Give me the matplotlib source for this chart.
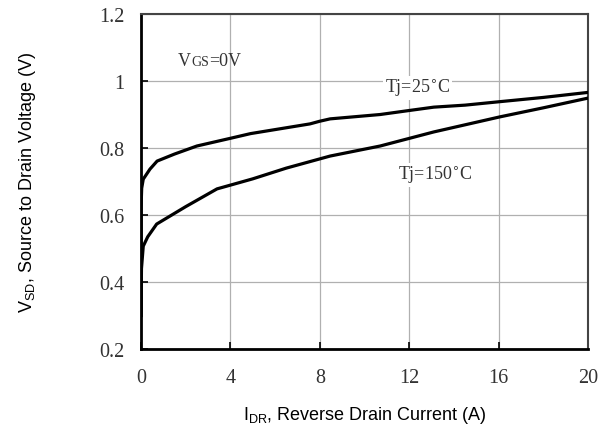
import matplotlib
matplotlib.use("Agg")
import matplotlib.pyplot as plt

# Reverse diode forward voltage vs. current
i_25 = [0.0, 0.0, 0.03, 0.1, 0.4, 0.72, 1.5, 2.5, 4.0, 4.9, 6.0, 7.56, 8.0, 8.46, 10.7, 12.0, 13.1, 14.5, 16.0, 18.0, 20.0]
v_25 = [0.30, 0.62, 0.68, 0.707, 0.737, 0.761, 0.782, 0.806, 0.829, 0.843, 0.855, 0.872, 0.880, 0.887, 0.900, 0.912, 0.922, 0.928, 0.938, 0.951, 0.966]

i_150 = [0.0, 0.02, 0.1, 0.3, 0.7, 1.3, 2.0, 3.4, 5.0, 6.5, 8.46, 10.7, 13.1, 16.06, 18.0, 20.0]
v_150 = [0.30, 0.44, 0.507, 0.535, 0.573, 0.597, 0.625, 0.678, 0.708, 0.740, 0.776, 0.806, 0.848, 0.893, 0.920, 0.949]

x_ticks = [0, 4, 8, 12, 16, 20]
y_ticks = [0.2, 0.4, 0.6, 0.8, 1.0, 1.2]
y_tick_labels = ["0.2", "0.4", "0.6", "0.8", "1", "1.2"]

serif = "Liberation Serif"
sans = "Liberation Sans"

fig = plt.figure(figsize=(6.11, 4.39), dpi=100)
ax = fig.add_axes([0.2308, 0.2027, 0.7316, 0.7631])

ax.plot(i_25, v_25, color="black", linewidth=2.3, zorder=3)
ax.plot(i_150, v_150, color="black", linewidth=2.3, zorder=3)

ax.set_xlim(0, 20)
ax.set_ylim(0.2, 1.2)
ax.set_xticks(x_ticks)
ax.set_yticks(y_ticks)
ax.set_yticklabels(y_tick_labels)
ax.grid(True, color="#b0b0b0", linewidth=0.9)
ax.set_axisbelow(True)
ax.tick_params(direction="in", length=5, width=1.2, labelsize=14.5, colors="black")
ax.tick_params(axis="x", pad=14)
ax.tick_params(axis="y", pad=12)
for lab in ax.get_xticklabels() + ax.get_yticklabels():
    lab.set_family(serif)
    lab.set_color("#333333")

for side in ["left", "bottom"]:
    ax.spines[side].set_linewidth(2.0)
for side in ["top", "right"]:
    ax.spines[side].set_linewidth(1.5)
    ax.spines[side].set_color("#444444")

# V_GS = 0V label with smaller subscript letters
t = ax.text(1.65, 1.06, "V", fontsize=13, family=serif, color="#333333", va="center")
t2 = ax.annotate("GS", xy=(1, 0), xycoords=t, fontsize=10, family=serif,
                 color="#333333", va="bottom", ha="left", xytext=(0, 1), textcoords="offset points")
ax.annotate("=0V", xy=(1, 0), xycoords=t2, fontsize=13, family=serif,
            color="#333333", va="bottom", ha="left", xytext=(0, -1), textcoords="offset points")

ax.text(10.9, 0.98, "Tj=25$^{\\circ}$C", fontsize=13, family=serif, color="#333333",
        va="center", ha="left", bbox=dict(facecolor="white", edgecolor="none", pad=1))
ax.text(11.5, 0.72, "Tj=150$^{\\circ}$C", fontsize=13, family=serif, color="#333333",
        va="center", ha="left", bbox=dict(facecolor="white", edgecolor="none", pad=1))

ax.set_xlabel("I$_{\\mathregular{DR}}$, Reverse Drain Current (A)", family=sans, fontsize=13, labelpad=12)
ax.set_ylabel("V$_{\\mathregular{SD}}$, Source to Drain Voltage (V)", family=sans, fontsize=13, labelpad=44)

fig.savefig("out.png", dpi=100)
